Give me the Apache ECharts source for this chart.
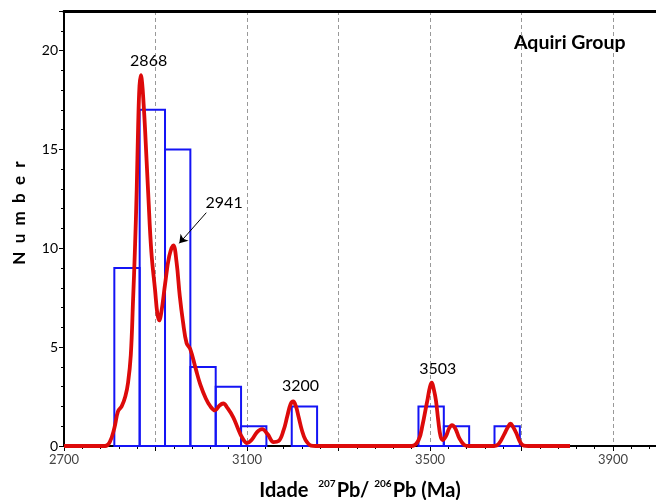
<!DOCTYPE html>
<html>
<head>
<meta charset="utf-8">
<script src="https://cdn.jsdelivr.net/npm/echarts@6/dist/echarts.min.js"></script>
<style>
  html, body { margin: 0; padding: 0; background: #fff; }
  #main { width: 656px; height: 500px; }
</style>
</head>
<body>
<div id="main"></div>
<script>
// histogram bins (left edge of each bin) and counts
const binWidth = 55.4
const binStart = [2810, 2865.4, 2920.8, 2976.2, 3031.6, 3087, 3197.8, 3474.8, 3530.2, 3641]
const binCount = [9, 17, 15, 4, 3, 1, 2, 2, 1, 1]

// probability density curve (age, value)
const curveAge = [2700, 2790, 2800, 2810, 2818, 2826, 2834, 2840, 2846, 2851, 2855, 2859, 2862, 2865, 2868,
  2871, 2874, 2877, 2884, 2891, 2899, 2904, 2908, 2913, 2921, 2930, 2939, 2946, 2953, 2960, 2968,
  2976, 2988, 2998, 3010, 3020, 3030, 3040, 3048, 3058, 3070, 3080, 3090, 3100, 3110, 3122, 3133,
  3145, 3158, 3169, 3180, 3188, 3195, 3201, 3207, 3213, 3220, 3228, 3240, 3250, 3460, 3475, 3484,
  3490, 3495, 3500, 3504, 3508, 3513, 3518, 3523, 3528, 3535, 3542, 3548, 3555, 3564, 3575, 3585,
  3640, 3650, 3663, 3670, 3676, 3682, 3689, 3697, 3705, 3715, 3806]
const curveValue = [0, 0, 0.2, 0.9, 1.75, 2.0, 2.5, 3.2, 4.6, 7.4, 9.9, 13, 16.1, 18.2, 18.75,
  18.3, 17.3, 16.1, 12.8, 9.8, 7.9, 6.7, 6.35, 6.8, 8.2, 9.6, 10.15, 9.3, 7.6, 6.3, 5.2,
  4.9, 3.9, 3.1, 2.4, 2.0, 1.8, 2.05, 2.15, 1.9, 1.45, 0.9, 0.4, 0.15, 0.3, 0.7, 0.85,
  0.6, 0.2, 0.25, 0.8, 1.5, 2.1, 2.25, 2.0, 1.45, 0.8, 0.3, 0.02, 0, 0, 0.3, 1.1,
  1.8, 2.4, 3.0, 3.2, 2.9, 2.3, 1.3, 0.5, 0.3, 0.5, 0.9, 1.05, 0.9, 0.4, 0.05, 0,
  0, 0.1, 0.63, 0.95, 1.13, 0.95, 0.63, 0.2, 0.02, 0, 0]

// peak labels and where they sit
const peakLabels = ['2868', '2941', '3200', '3503']
const peakLabelX = [2885, 3050, 3217, 3517]
const peakLabelY = [19.5, 12.3, 3.04, 3.92]
// arrow from the 2941 label to its peak
const arrowFrom = [3011, 11.8]
const arrowTo = [2952, 10.25]

const xTickLabels = [2700, 3100, 3500, 3900]
const yTickLabels = [0, 5, 10, 15, 20]

const font = 'Lato, sans-serif'
const myChart = echarts.init(document.getElementById('main'))

const barData = binStart.map((s, i) => [s, s + binWidth, binCount[i]])
const curveData = curveAge.map((a, i) => [a, curveValue[i]])
const labelData = peakLabels.map((t, i) => ({ value: [peakLabelX[i], peakLabelY[i]], name: t }))

myChart.setOption({
  animation: false,
  grid: { left: 64, right: 0, top: 11, bottom: 54, outerBoundsMode: 'none', containLabel: false },
  xAxis: [{
    type: 'value',
    min: 2700,
    max: 3994,
    interval: 200,
    position: 'bottom',
    name: '{b|Idade  }{s|207}{b|Pb/ }{s|206}{b|Pb (Ma)}',
    nameLocation: 'middle',
    nameGap: 33,
    nameTextStyle: {
      rich: {
        b: { fontFamily: font, fontWeight: 'bold', fontSize: 20, color: '#000', lineHeight: 24 },
        s: { fontFamily: font, fontWeight: 'bold', fontSize: 10, color: '#000', verticalAlign: 'top', lineHeight: 24, padding: [0, 1, 9, 0] }
      }
    },
    axisLine: { onZero: false, lineStyle: { color: '#000', width: 2 } },
    axisTick: { length: 5, lineStyle: { color: '#000' } },
    minorTick: { show: true, splitNumber: 5, length: 3, lineStyle: { color: '#000' } },
    axisLabel: {
      fontFamily: font, fontSize: 13, color: '#444', margin: 7,
      formatter: v => (xTickLabels.includes(v) ? String(v) : '')
    },
    splitLine: {
      show: true, showMinLine: false, showMaxLine: false,
      lineStyle: { color: '#999', type: [4, 3], width: 1 }
    }
  }, {
    // top border of the frame
    type: 'value',
    min: 2700,
    max: 3994,
    position: 'top',
    axisLine: { onZero: false, lineStyle: { color: '#000', width: 3 } },
    axisTick: { show: false },
    axisLabel: { show: false },
    splitLine: { show: false }
  }],
  yAxis: {
    type: 'value',
    min: 0,
    max: 22,
    interval: 5,
    axisLine: { show: true, onZero: false, lineStyle: { color: '#000', width: 2 } },
    axisTick: { length: 5, lineStyle: { color: '#000' } },
    minorTick: { show: true, splitNumber: 5, length: 3, lineStyle: { color: '#000' } },
    axisLabel: {
      fontFamily: font, fontSize: 14, color: '#000', margin: 6,
      formatter: v => (yTickLabels.includes(v) ? String(v) : '')
    },
    splitLine: { show: false }
  },
  graphic: [{
    type: 'text',
    left: 514,
    top: 33,
    style: { text: 'Aquiri Group', font: 'bold 19.5px ' + font, fill: '#000' }
  }, {
    type: 'text',
    x: 20,
    y: 213,
    rotation: Math.PI / 2,
    style: {
      text: 'N  u  m  b  e  r',
      font: 'bold 17px ' + font,
      fill: '#000',
      align: 'center',
      verticalAlign: 'middle'
    }
  }],
  series: [{
    type: 'custom',
    name: 'histogram',
    data: barData,
    encode: { x: [0, 1], y: 2 },
    renderItem: (params, api) => {
      const p0 = api.coord([api.value(0), api.value(2)])
      const p1 = api.coord([api.value(1), 0])
      return {
        type: 'rect',
        shape: { x: p0[0], y: p0[1], width: p1[0] - p0[0], height: p1[1] - p0[1] },
        style: { fill: 'none', stroke: '#1414f5', lineWidth: 2 }
      }
    },
    z: 3
  }, {
    type: 'line',
    name: 'density',
    data: curveData,
    smooth: 0.4,
    showSymbol: false,
    lineStyle: { color: '#dd0a0a', width: 3.8 },
    z: 4,
    markLine: {
      silent: true,
      symbol: ['none', 'arrow'],
      symbolSize: 8,
      label: { show: false },
      lineStyle: { color: '#000', width: 1, type: 'solid' },
      data: [[{ coord: arrowFrom }, { coord: arrowTo }]]
    }
  }, {
    type: 'scatter',
    name: 'peaks',
    data: labelData,
    symbolSize: 0,
    itemStyle: { color: '#000', opacity: 1 },
    label: {
      show: true,
      position: 'inside',
      formatter: p => p.name,
      fontFamily: font,
      fontSize: 16,
      color: '#000',
      textBorderWidth: 0
    },
    z: 5
  }]
})
</script>
</body>
</html>
